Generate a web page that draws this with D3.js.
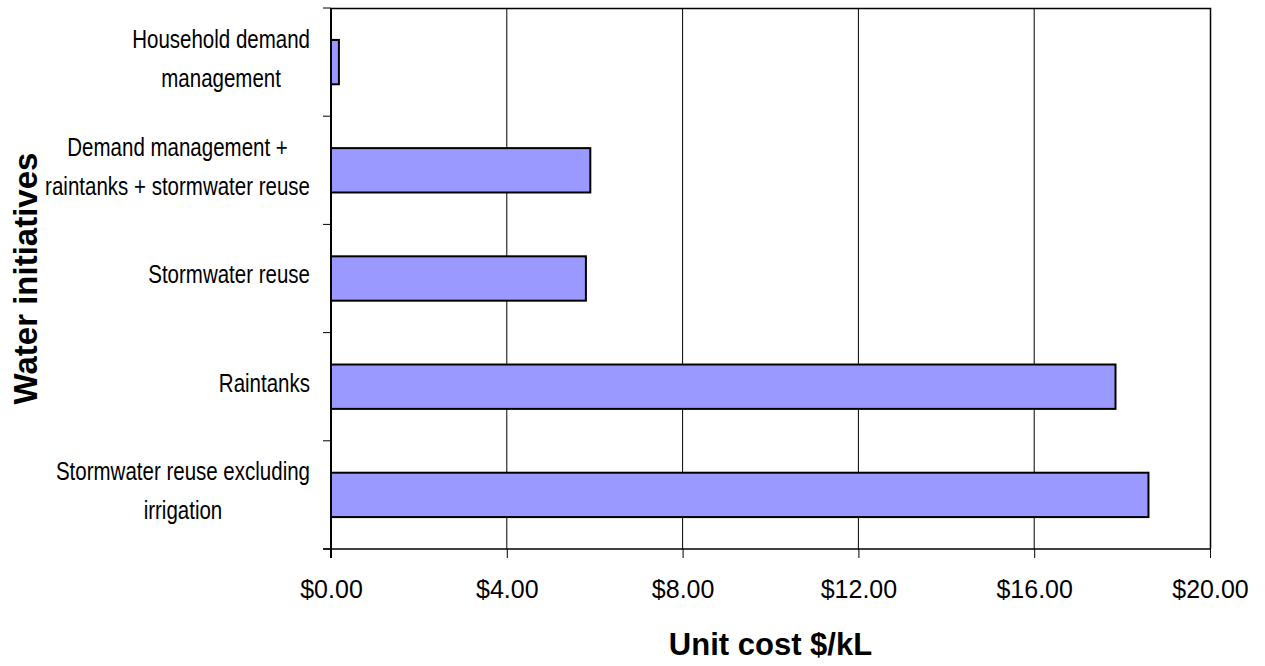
<!DOCTYPE html>
<html>
<head>
<meta charset="utf-8">
<script src="https://cdn.jsdelivr.net/npm/d3@7"></script>
<style>
  html, body { margin: 0; padding: 0; background: #fff; }
  svg { display: block; font-family: "Liberation Sans", Arial, sans-serif; }
</style>
</head>
<body>
<div id="chart"></div>
<script>
// categories top to bottom, each split in its display lines
const categories = [
  ["Household demand", "management"],
  ["Demand management +", "raintanks + stormwater reuse"],
  ["Stormwater reuse"],
  ["Raintanks"],
  ["Stormwater reuse excluding", "irrigation"],
];
const unitCost = [0.18, 5.9, 5.8, 17.85, 18.6];
const xTicks = [0, 4, 8, 12, 16, 20];

const width = 1265;
const height = 666;
const margin = { top: 8, right: 55, bottom: 117, left: 331 };

const svg = d3.select("#chart")
  .append("svg")
  .attr("width", width)
  .attr("height", height);

svg.append("rect").attr("width", width).attr("height", height).attr("fill", "#fff");

const x = d3.scaleLinear()
  .domain([0, 20])
  .range([margin.left, width - margin.right]);

const y = d3.scaleBand()
  .domain(d3.range(categories.length))
  .range([margin.top, height - margin.bottom])
  .paddingInner(0.59)
  .paddingOuter(0.295);

const [y0, y1] = y.range();

// gridlines
svg.append("g")
  .selectAll("line")
  .data(xTicks.slice(1, -1))
  .join("line")
  .attr("x1", d => x(d)).attr("x2", d => x(d))
  .attr("y1", y0).attr("y2", y1)
  .attr("stroke", "#000").attr("stroke-width", 1);

// plot frame (top + right)
svg.append("path")
  .attr("d", `M${x(0)},${y0 + 0.5}H${x(20) + 0.5}V${y1}`)
  .attr("fill", "none").attr("stroke", "#000").attr("stroke-width", 1.5);

// bars
svg.append("g")
  .selectAll("rect")
  .data(unitCost)
  .join("rect")
  .attr("x", x(0))
  .attr("y", (d, i) => y(i))
  .attr("width", d => x(d) - x(0))
  .attr("height", y.bandwidth())
  .attr("fill", "#9999ff")
  .attr("stroke", "#000")
  .attr("stroke-width", 2);

// x axis
const xAxis = svg.append("g")
  .attr("transform", `translate(0,${y1})`)
  .call(d3.axisBottom(x).tickValues(xTicks).tickSize(9).tickFormat(d => "$" + d3.format(".2f")(d)).tickSizeOuter(0));
xAxis.select(".domain").remove();
xAxis.append("line")
  .attr("x1", x(0) - 8).attr("x2", x(20))
  .attr("stroke", "#000").attr("stroke-width", 1.5);
xAxis.selectAll(".tick line").attr("stroke", "#000");
xAxis.selectAll(".tick text")
  .attr("y", 49).attr("dy", 0)
  .attr("fill", "#000")
  .style("font-size", "25px")
  .style("font-family", "'Liberation Sans', Arial, sans-serif");

// y axis line and band-edge ticks
svg.append("line")
  .attr("x1", x(0)).attr("x2", x(0))
  .attr("y1", y0).attr("y2", y1 + 9)
  .attr("stroke", "#000").attr("stroke-width", 2);
svg.append("g")
  .selectAll("line")
  .data(d3.range(categories.length + 1))
  .join("line")
  .attr("x1", x(0) - 8).attr("x2", x(0))
  .attr("y1", i => y0 + i * y.step()).attr("y2", i => y0 + i * y.step())
  .attr("stroke", "#000").attr("stroke-width", 1);

// category labels (condensed, centred block ending left of ticks)
const lineH = 39;
const labels = svg.append("g")
  .selectAll("g")
  .data(categories)
  .join("g");
labels.each(function (lines, i) {
  const g = d3.select(this);
  const cy = y(i) + y.bandwidth() / 2;
  const t = g.append("text")
    .attr("text-anchor", "middle")
    .attr("fill", "#000")
    .style("font-size", "25px");
  lines.forEach((l, k) => {
    t.append("tspan")
      .attr("x", 0)
      .attr("y", cy + 5 + (k - (lines.length - 1) / 2) * lineH)
      .text(l);
  });
  const w = d3.max(t.selectAll("tspan").nodes(), n => n.getComputedTextLength()) * 0.82;
  t.attr("transform", `translate(${x(0) - 21 - w / 2},0) scale(0.82,1)`);
});

// axis titles
svg.append("text")
  .attr("x", (x(0) + x(20)) / 2)
  .attr("y", 655)
  .attr("text-anchor", "middle")
  .style("font-size", "31px")
  .style("font-weight", "bold")
  .text("Unit cost $/kL");

svg.append("text")
  .attr("transform", `translate(37,${(y0 + y1) / 2}) rotate(-90)`)
  .attr("text-anchor", "middle")
  .style("font-size", "33px")
  .style("font-weight", "bold")
  .text("Water initiatives");
</script>
</body>
</html>
